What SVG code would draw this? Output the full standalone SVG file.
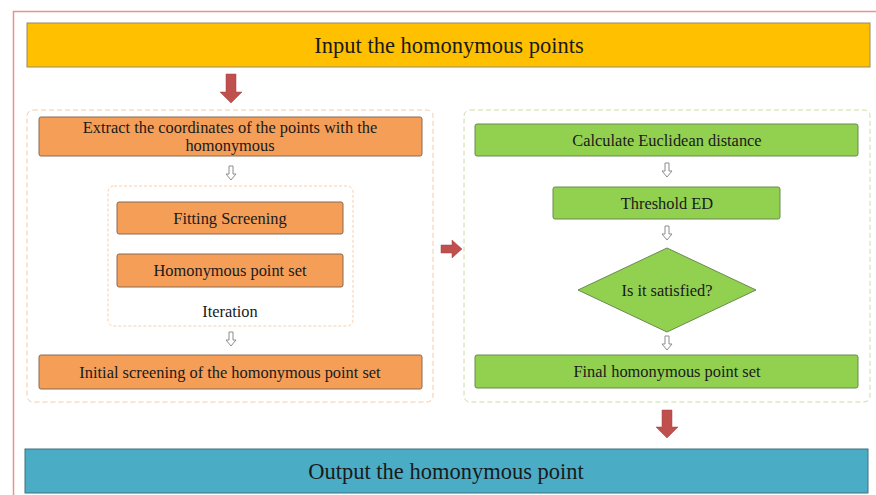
<svg xmlns="http://www.w3.org/2000/svg" width="876" height="495" viewBox="0 0 876 495">
<style>
text{font-family:"Liberation Serif","Times New Roman",serif;fill:#1a1a1a;text-anchor:middle;dominant-baseline:central}
.t{font-size:16.4px}
.big{font-size:22.5px}
.or{fill:#f59e58;stroke:#8a6a50;stroke-width:1}
.gr{fill:#92d050;stroke:#6a8a50;stroke-width:1}
.wa{fill:#fff;stroke:#8c8c8c;stroke-width:1}
.ra{fill:#c0504d;stroke:#a04040;stroke-width:0.5}
</style>
<rect width="876" height="495" fill="#fff"/>
<path d="M876,11.5 H13.5 V495" fill="none" stroke="#e8948e" stroke-width="1.5"/>
<g id="input"><rect x="27" y="23" width="843" height="44" fill="#ffc000" stroke="#9a8a60" stroke-width="1"/><text class="big" x="449" y="45">Input the homonymous points</text></g>
<g id="left-group"><rect x="27" y="110" width="406" height="292" rx="6" fill="none" stroke="#f9c9a3" stroke-width="1" stroke-dasharray="5,3"/></g>
<g id="iter-group"><rect x="108" y="186" width="245" height="140" rx="6" fill="none" stroke="#f9cfae" stroke-width="1" stroke-dasharray="3,2"/><text class="t" x="230" y="311">Iteration</text></g>
<g id="right-group"><rect x="464" y="110" width="406" height="292" rx="6" fill="none" stroke="#c9e0a6" stroke-width="1" stroke-dasharray="5,3"/></g>
<g id="extract"><rect class="or" x="39" y="117" width="383" height="39" rx="2"/><text class="t" x="230" y="127">Extract the coordinates of the points with the</text><text class="t" x="230" y="145.5">homonymous</text></g>
<g id="fitting"><rect class="or" x="117" y="202" width="226" height="32" rx="2"/><text class="t" x="230" y="218">Fitting Screening</text></g>
<g id="hps"><rect class="or" x="117" y="254" width="226" height="33" rx="2"/><text class="t" x="230" y="270.5">Homonymous point set</text></g>
<g id="initial"><rect class="or" x="39" y="355" width="383" height="34" rx="2"/><text class="t" x="230" y="372">Initial screening of the homonymous point set</text></g>
<g id="calc"><rect class="gr" x="475" y="124" width="383" height="32" rx="2"/><text class="t" x="667" y="140">Calculate Euclidean distance</text></g>
<g id="threshold"><rect class="gr" x="553" y="187" width="227" height="32" rx="2"/><text class="t" x="667" y="203">Threshold ED</text></g>
<g id="satisfied"><polygon class="gr" points="667,248 756,290 667,332 578,290"/><text class="t" x="667" y="290">Is it satisfied?</text></g>
<g id="final"><rect class="gr" x="475" y="355" width="383" height="33" rx="2"/><text class="t" x="667" y="371.5">Final homonymous point set</text></g>
<g id="output"><rect x="25" y="449" width="843" height="44" fill="#4bacc6" stroke="#40707f" stroke-width="1"/><text class="big" x="446" y="471">Output the homonymous point</text></g>
<g id="connectors">
<polygon class="ra" points="226,74 236,74 236,92 242,92 231,103 220,92 226,92"/>
<polygon class="ra" points="441,245 452,245 452,240 462,249 452,258 452,253 441,253"/>
<polygon class="ra" points="662,410 672,410 672,427 678,427 667,438 656,427 662,427"/>
<polygon class="wa" points="229,166 233,166 233,174 236,174 231,180 226,174 229,174"/>
<polygon class="wa" points="229,332 233,332 233,340 236,340 231,346 226,340 229,340"/>
<polygon class="wa" points="665,163 669,163 669,171 672,171 667,177 662,171 665,171"/>
<polygon class="wa" points="665,226 669,226 669,234 672,234 667,240 662,234 665,234"/>
<polygon class="wa" points="665,336 669,336 669,344 672,344 667,350 662,344 665,344"/>
</g>
</svg>
